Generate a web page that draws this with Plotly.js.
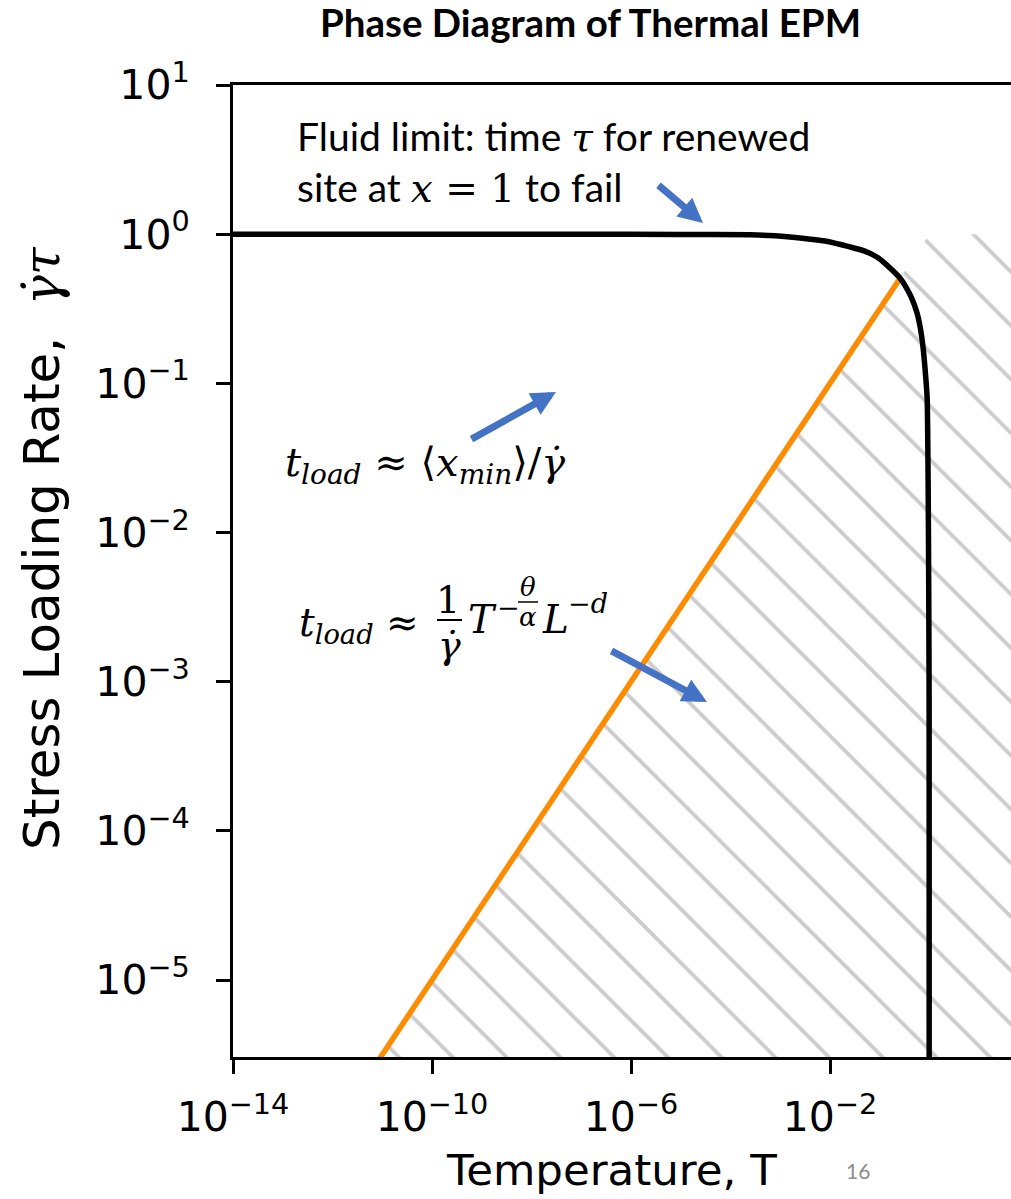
<!DOCTYPE html>
<html><head><meta charset="utf-8">
<script src="https://cdn.plot.ly/plotly-3.0.1.min.js"></script>
<style>html,body{margin:0;padding:0;background:#fff;overflow:hidden}</style>
</head><body><div id="chart" style="width:1011px;height:1199px"></div>
<script>
// Fluid-limit curve (black)
const fluidT    = [1e-14, 1e-10, 1e-7, 1e-5, 2.5e-4, 7.9e-4, 2.5e-3, 7.9e-3, 0.025, 0.050, 0.089, 0.132, 0.186, 0.257, 0.323, 0.427, 0.562, 0.661, 0.741, 0.822, 0.895, 0.938, 0.965, 0.982, 0.984, 0.985];
const fluidRate = [1, 1, 0.999, 0.996, 0.99, 0.975, 0.944, 0.90, 0.822, 0.77, 0.70, 0.63, 0.566, 0.507, 0.452, 0.38, 0.296, 0.23, 0.175, 0.12, 0.081, 0.022, 4e-3, 7.6e-4, 1e-5, 1e-7];
// Loading line (orange)
const loadT    = [1e-12, 0.257];
const loadRate = [1e-6, 0.507];
// Hatched region boundary
const hatchT    = [1e-12, 1, 100, 100];
const hatchRate = [1e-6, 1, 1, 1e-6];
// Tick labels
const xTickVals = [1e-14, 1e-10, 1e-6, 1e-2];
const xTickText = ['10<sup>\u221214</sup>', '10<sup>\u221210</sup>', '10<sup>\u22126</sup>', '10<sup>\u22122</sup>'];
const yTickVals = [10, 1, 0.1, 0.01, 1e-3, 1e-4, 1e-5];
const yTickText = ['10<sup>1</sup>', '10<sup>0</sup>', '10<sup>\u22121</sup>', '10<sup>\u22122</sup>', '10<sup>\u22123</sup>', '10<sup>\u22124</sup>', '10<sup>\u22125</sup>'];

const L = 233, R = 1011, TOP = 85, B = 1057;
const px = x => (x - L) / (R - L);
const py = y => (B - y) / (B - TOP);
const SANS = 'DejaVu Sans';
const TXT = 'Lato';
const MATH = 'DejaVu Serif';
const m = s => "<span style='font-family:" + MATH + "'>" + s + "</span>";

const traces = [
  {x: hatchT, y: hatchRate, type: 'scatter', mode: 'lines', fill: 'toself',
   line: {width: 0, color: 'rgba(0,0,0,0)'},
   fillpattern: {shape: '\\', fgcolor: '#cccccc', size: 38, solidity: 0.1}},
  {x: loadT, y: loadRate, type: 'scatter', mode: 'lines', line: {color: '#ff8c00', width: 5.5}},
  {x: fluidT, y: fluidRate, type: 'scatter', mode: 'lines', line: {color: '#000000', width: 5.5, shape: 'spline', smoothing: 0.6}}
];

const ann = [];
function txt(x, y, text, opt) {
  ann.push(Object.assign({xref: 'paper', yref: 'paper', x: px(x), y: py(y), text: text, showarrow: false,
    xanchor: 'left', yanchor: 'middle', font: {family: TXT, size: 39, color: '#000'}}, opt || {}));
}
function arrow(tx, ty, sx, sy) {
  ann.push({xref: 'paper', yref: 'paper', x: px(tx), y: py(ty), ax: sx - tx, ay: sy - ty, text: '',
    showarrow: true, arrowhead: 2, arrowsize: 0.7, arrowwidth: 7, arrowcolor: '#4472c4'});
}
// Title
txt(590, 22, '<b>Phase Diagram of Thermal EPM</b>', {xanchor: 'center', font: {family: TXT, size: 38.5, color: '#000'}});
// axis titles
txt(611, 1170, 'Temperature, T', {xanchor: 'center', font: {family: SANS, size: 43.5, color: '#000'}});
txt(42, 548, 'Stress Loading Rate,  ' + m('<i>\u03b3\u0307\u03c4</i>'), {xanchor: 'center', textangle: -90, font: {family: SANS, size: 50, color: '#000'}});
txt(858, 1170, '16', {xanchor: 'center', font: {family: TXT, size: 21, color: '#8c8c8c'}});
// Fluid limit text
txt(295, 137, 'Fluid limit: time ' + m('<i>\u03c4</i>') + ' for renewed');
txt(295, 187, 'site at ' + m('<i>x</i> = 1') + ' to fail');
// formula 1
txt(283, 465, m('<i>t</i><sub><i>load</i></sub> \u2248 \u27e8<i>x</i><sub><i>min</i></sub>\u27e9/<i>\u03b3\u0307</i>'), {font: {family: MATH, size: 40, color: '#000'}});
// formula 2 pieces
txt(297, 625, m('<i>t</i><sub><i>load</i></sub> \u2248'), {font: {family: MATH, size: 39, color: '#000'}});
txt(448, 600, m('1'), {xanchor: 'center', font: {family: MATH, size: 38, color: '#000'}});
txt(449, 645, m('<i>\u03b3\u0307</i>'), {xanchor: 'center', font: {family: MATH, size: 38, color: '#000'}});
txt(466, 619, m('<i>T</i>'), {font: {family: MATH, size: 39, color: '#000'}});
txt(495, 607, m('\u2212'), {font: {family: MATH, size: 27, color: '#000'}});
txt(528, 587, m('<i>\u03b8</i>'), {xanchor: 'center', font: {family: MATH, size: 26, color: '#000'}});
txt(528, 617, m('<i>\u03b1</i>'), {xanchor: 'center', font: {family: MATH, size: 26, color: '#000'}});
txt(540, 619, m('<i>L</i>'), {font: {family: MATH, size: 39, color: '#000'}});
txt(566, 603, m('\u2212<i>d</i>'), {font: {family: MATH, size: 27, color: '#000'}});
// arrows
arrow(703, 223, 657, 184);
arrow(556, 392, 470, 440);
arrow(707, 702, 610, 650);

const shapes = [
  {type: 'line', xref: 'paper', yref: 'paper', x0: px(437), x1: px(462), y0: py(620), y1: py(620), line: {color: '#000', width: 2}},
  {type: 'line', xref: 'paper', yref: 'paper', x0: px(518), x1: px(538), y0: py(602), y1: py(602), line: {color: '#000', width: 1.5}}
];

const layout = {
  width: 1011, height: 1199,
  margin: {l: L, r: 0, t: TOP, b: 1199 - B, pad: 0},
  paper_bgcolor: '#fff', plot_bgcolor: '#fff',
  showlegend: false,
  font: {family: SANS, color: '#000'},
  xaxis: {type: 'log', range: [-14, 1.638], tickmode: 'array', tickvals: xTickVals, ticktext: xTickText,
    showgrid: false, zeroline: false, showline: true, linecolor: '#000', linewidth: 3, mirror: true,
    ticks: 'outside', ticklen: 14, tickwidth: 3, tickcolor: '#000', ticklabelstandoff: 8,
    tickfont: {family: SANS, size: 41, color: '#000'}},
  yaxis: {type: 'log', range: [-5.516, 1.0], tickmode: 'array', tickvals: yTickVals, ticktext: yTickText,
    showgrid: false, zeroline: false, showline: true, linecolor: '#000', linewidth: 3, mirror: false,
    ticks: 'outside', ticklen: 14, tickwidth: 3, tickcolor: '#000', ticklabelstandoff: 18,
    tickfont: {family: SANS, size: 41, color: '#000'}},
  annotations: ann,
  shapes: shapes
};
Plotly.newPlot('chart', traces, layout, {staticPlot: true, displayModeBar: false});
</script></body></html>
